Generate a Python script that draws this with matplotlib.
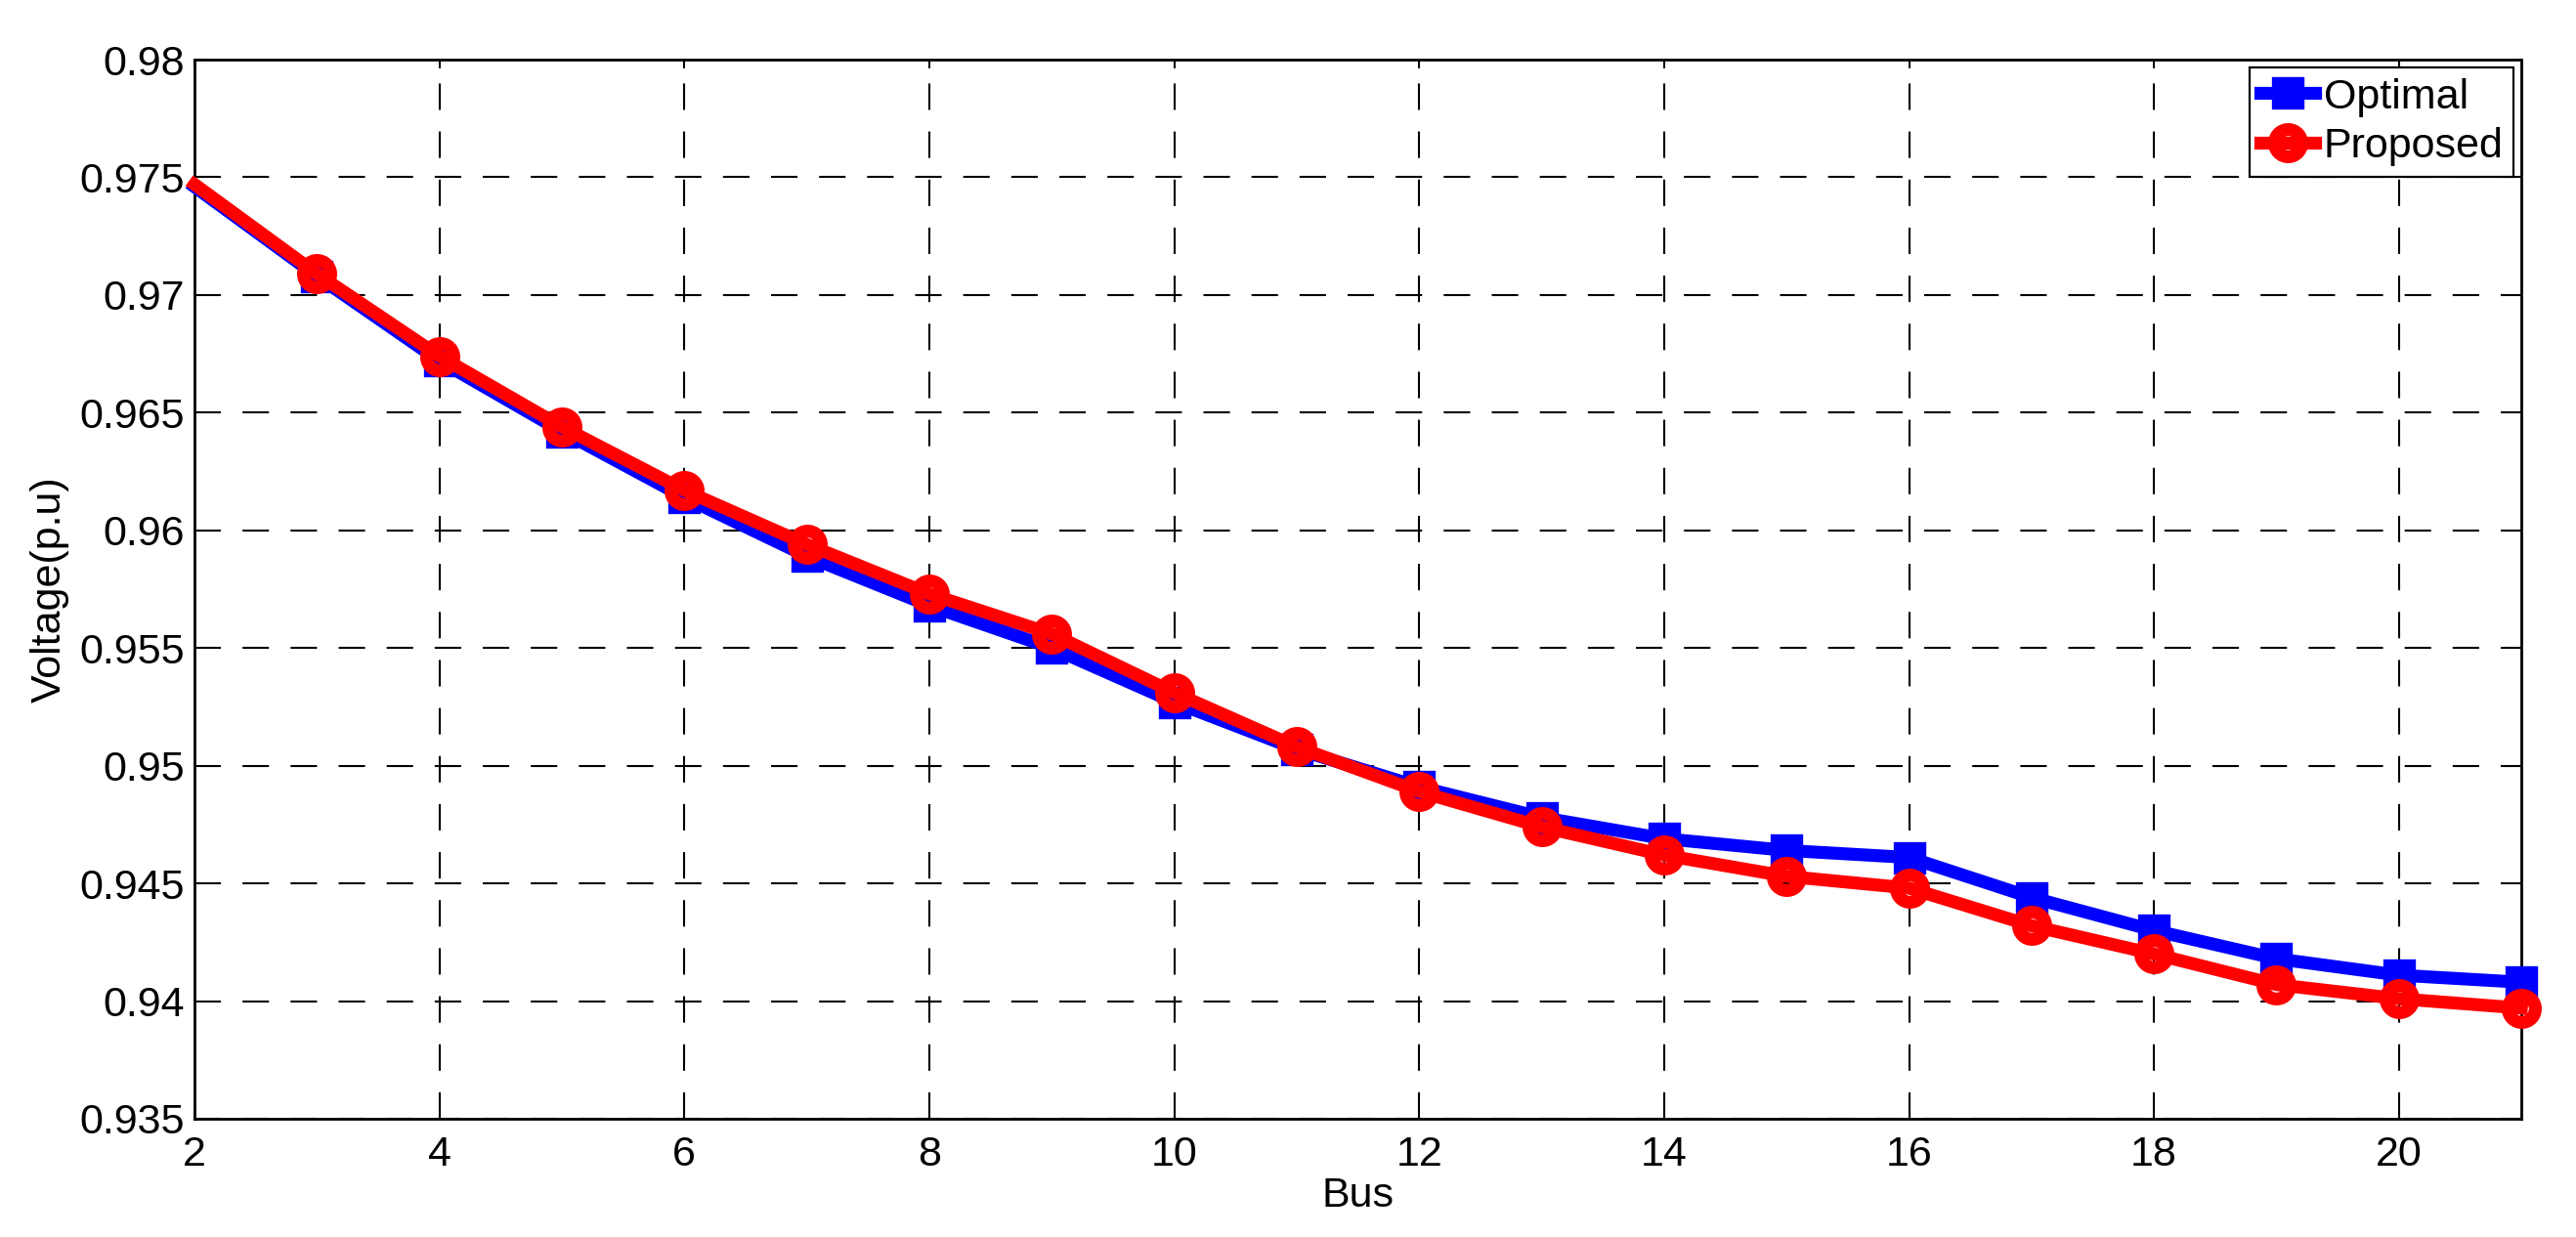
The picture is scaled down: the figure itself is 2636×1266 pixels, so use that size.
import matplotlib
matplotlib.use("Agg")
import matplotlib.pyplot as plt

plt.rcParams['font.family'] = ['Liberation Sans', 'DejaVu Sans']

bus = [2, 3, 4, 5, 6, 7, 8, 9, 10, 11, 12, 13, 14, 15, 16, 17, 18, 19, 20, 21]
optimal = [0.9746, 0.9708, 0.9672, 0.9642, 0.9614, 0.9589, 0.9568, 0.9550, 0.9527, 0.9507,
           0.9491, 0.9478, 0.9469, 0.9464, 0.9461, 0.9444, 0.9430, 0.9418, 0.9411, 0.9408]
proposed = [0.9747, 0.9709, 0.9674, 0.9644, 0.9617, 0.9594, 0.9573, 0.9556, 0.9531, 0.9508,
            0.9489, 0.9474, 0.9462, 0.9453, 0.9448, 0.9432, 0.9420, 0.9407, 0.9401, 0.9397]
xticks = [2, 4, 6, 8, 10, 12, 14, 16, 18, 20]
yticks = [0.935, 0.94, 0.945, 0.95, 0.955, 0.96, 0.965, 0.97, 0.975, 0.98]
ytick_labels = ['0.935', '0.94', '0.945', '0.95', '0.955', '0.96', '0.965', '0.97', '0.975', '0.98']

fig = plt.figure(figsize=(26.36, 12.66), dpi=100)
ax = fig.add_axes([0.0755, 0.0956, 0.9033, 0.8562])

# no marker on the first point, as in the original export
marks = list(range(1, len(bus)))
ax.plot(bus, optimal, color='blue', lw=9.5, marker='s', ms=18, mfc='blue', mec='blue',
        mew=6, markevery=marks, clip_on=False, label='Optimal', zorder=3)
ax.plot(bus, proposed, color='red', lw=9.5, marker='o', ms=20, mfc='none', mec='red',
        mew=9.5, markevery=marks, clip_on=False, label='Proposed', zorder=4)

ax.set_xlim(2, 21)
ax.set_ylim(0.935, 0.98)
ax.set_xticks(xticks)
ax.set_yticks(yticks)
ax.set_yticklabels(ytick_labels)
ax.tick_params(direction='in', length=6.5, width=1.4, top=True, right=True,
               labelsize=31, pad=7)
ax.tick_params(axis='x', pad=12)
for s in ax.spines.values():
    s.set_linewidth(2)

ax.grid(True, color='black', lw=1.5, linestyle=(0, (13, 10.6)))
ax.set_axisbelow(True)

ax.set_xlabel('Bus', fontsize=31, labelpad=2)
ax.set_ylabel('Voltage(p.u)', fontsize=31, labelpad=8)

leg = ax.legend(loc='upper right', fontsize=31, fancybox=False, framealpha=1,
                edgecolor='black', handlelength=1.3, handletextpad=0.2,
                labelspacing=0.25, borderpad=0.25, borderaxespad=0.18)
leg.get_frame().set_linewidth(1.6)

fig.savefig('out.png', dpi=100, facecolor='white')
